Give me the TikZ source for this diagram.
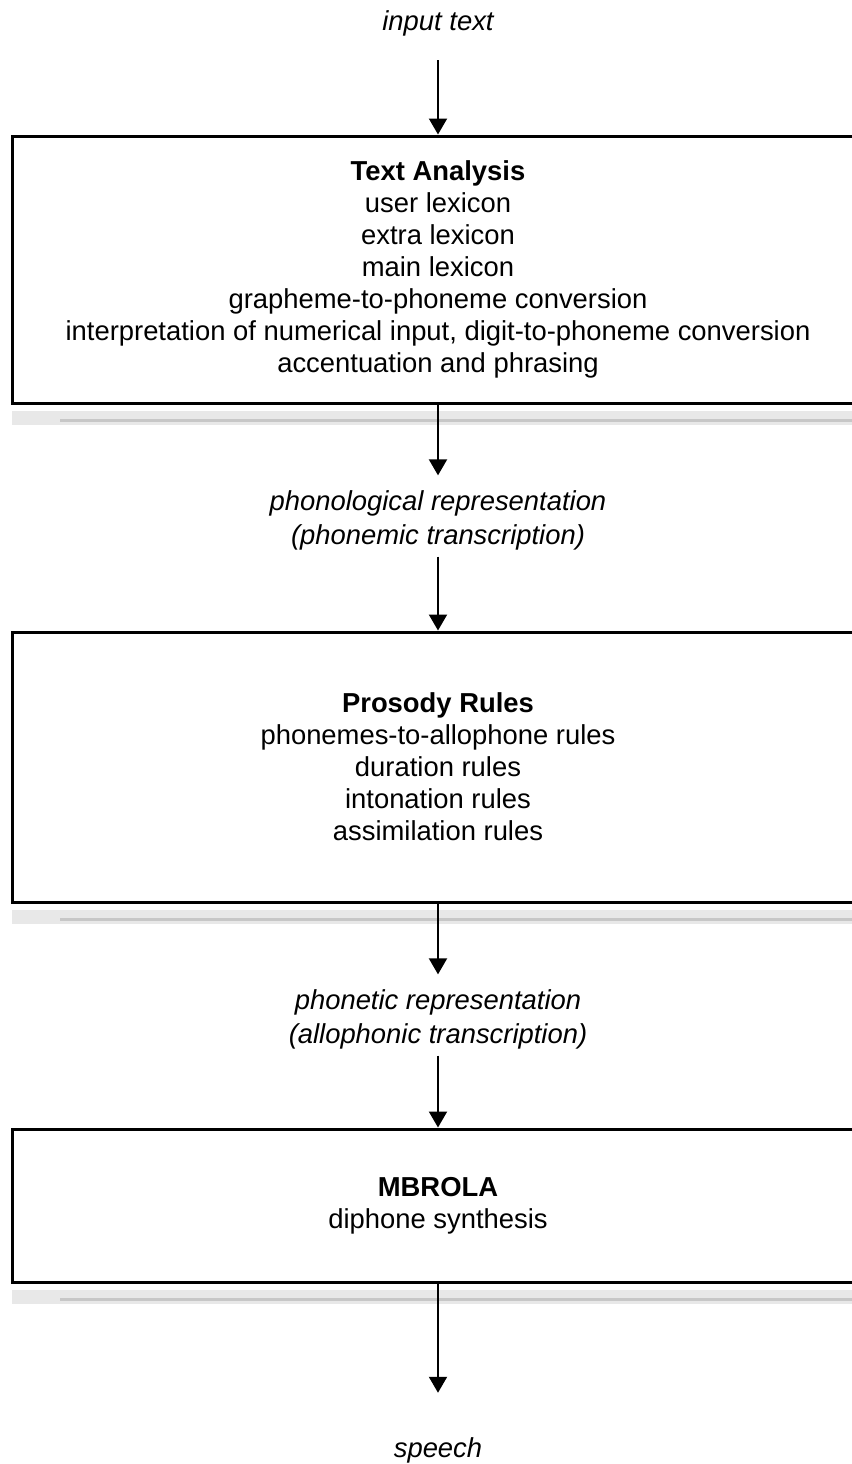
\documentclass[tikz,border=0pt]{standalone}
\usepackage{fontspec}
\setmainfont{Liberation Sans}
\usetikzlibrary{arrows.meta}
\begin{document}
\begin{tikzpicture}[x=0.5pt,y=-0.5pt,
  stage/.style={draw, line width=1.5pt, minimum width=426pt, align=center,
    inner sep=0pt, font=\fontsize{13.7}{16}\selectfont},
  flowtext/.style={align=center, inner sep=0pt,
    font=\fontsize{13.7}{17}\selectfont\itshape},
  flow/.style={line width=1pt, -{Triangle[width=9pt,length=8pt]}},
  scanband/.style={fill=black!9, draw=none},
  scanline/.style={fill=black!22, draw=none}]
\useasboundingbox (0,0) rectangle (852,1464);
\clip (0,0) rectangle (852,1464);

% scan shadow bands under the boxes
\fill[scanband] (12,411) rectangle (852,425);
\fill[scanline] (60,418.5) rectangle (852,421.5);
\fill[scanband] (12,910) rectangle (852,924);
\fill[scanline] (60,917.5) rectangle (852,920.5);
\fill[scanband] (12,1290) rectangle (852,1304);
\fill[scanline] (60,1297.5) rectangle (852,1300.5);

% texts and boxes
\node[flowtext, anchor=base] (in) at (438,30) {input text};

\node[stage, minimum height=133.5pt] (ta) at (438,269.5)
  {\textbf{Text Analysis}\\user lexicon\\extra lexicon\\main lexicon\\
   grapheme-to-phoneme conversion\\
   interpretation of numerical input, digit-to-phoneme conversion\\
   accentuation and phrasing};

\node[flowtext] (phon) at (438,520.5)
  {phonological representation\\(phonemic transcription)};

\node[stage, minimum height=135pt] (pr) at (438,767)
  {\textbf{Prosody Rules}\\phonemes-to-allophone rules\\duration rules\\
   intonation rules\\assimilation rules};

\node[flowtext] (phonet) at (438,1019.5)
  {phonetic representation\\(allophonic transcription)};

\node[stage, minimum height=76.5pt] (mb) at (438,1205.5)
  {\textbf{MBROLA}\\diphone synthesis};

\node[flowtext, anchor=base] (sp) at (438,1457) {speech};

% connectors
\draw[flow, shorten <=12.2pt] (in.south) -- (ta.north);
\draw[flow, shorten >=7.5pt] (ta.south) -- (phon.north);
\draw[flow, shorten <=3pt] (phon.south) -- (pr.north);
\draw[flow, shorten >=7.5pt] (pr.south) -- (phonet.north);
\draw[flow, shorten <=3pt] (phonet.south) -- (mb.north);
\draw[flow, shorten >=22pt] (mb.south) -- (sp.north);
\end{tikzpicture}
\end{document}
